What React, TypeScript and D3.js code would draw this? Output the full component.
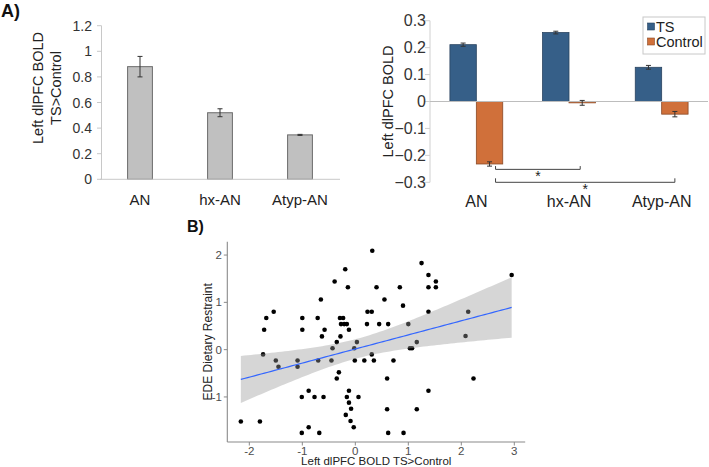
import { useEffect, useRef } from "react";
import * as d3 from "d3";

const groups = ["AN", "hx-AN", "Atyp-AN"];

// A) left: TS>Control contrast per group
const contrastMean = [0.88, 0.52, 0.347];
const contrastErr = [0.08, 0.031, 0.004];
const contrastTicks = [0, 0.2, 0.4, 0.6, 0.8, 1, 1.2];

// A) right: condition means per group
const conditions = ["TS", "Control"];
const tsMean = [0.211, 0.256, 0.127];
const tsErr = [0.006, 0.005, 0.007];
const controlMean = [-0.232, -0.005, -0.047];
const controlErr = [0.008, 0.009, 0.01];
const boldTicks = [-0.3, -0.2, -0.1, 0, 0.1, 0.2, 0.3];
const bracketPairs = [
  ["AN", "hx-AN"],
  ["AN", "Atyp-AN"],
];
const bracketLevels = [-0.252, -0.3];

// B) per-subject contrast vs EDE restraint
const boldContrast = [
  -2.16, -1.8, -1.72, -1.68, -1.54, -1.74, -1.5, -1.45, -1.09, -1.09, -1.0, -1.0,
  -1.01, -0.88, -0.77, -0.6, -1.01, -0.88, -0.68, -0.71, -0.65, -0.58, -0.63, -0.7,
  0.32, -0.19, -0.39, -0.14, 0.4, 0.84, 1.25, 1.38, 1.38, 1.52, 1.52, 0.55, 0.9,
  0.23, 0.31, 1.38, -0.29, -0.23, -0.27, -0.21, -0.16, -0.12, 0.22, 0.45, 0.62,
  -0.28, -0.35, -0.43, 0.03, -0.02, -0.45, -0.01, 0.17, 0.31, 0.35, 0.72, 1.0,
  1.03, 1.07, 1.16, -0.31, -0.35, -0.12, -0.16, 0.06, -0.12, -0.08, -0.18, -0.09,
  -0.03, 0.6, 0.6, 1.16, 0.62, 0.91, 1.38, 2.13, 2.08, 2.23, 2.95,
];
const dietaryRestraint = [
  -1.52, -1.52, 0.42, 0.67, 0.8, -0.1, -0.23, -0.36, -0.23, -0.36, 0.67, 0.42,
  -1.0, -0.87, -1.0, -1.0, -1.76, -1.64, -1.76, 0.67, 1.06, 0.42, 0.28, -0.23,
  2.09, 1.7, 1.44, 1.32, 1.32, 1.32, 1.83, 1.58, 1.32, 1.32, 1.44, 1.06, 0.93,
  0.8, 0.8, 0.8, 0.67, 0.67, 0.54, 0.54, 0.54, 0.42, 0.54, 0.54, 0.54,
  0.28, 0.16, 0.03, 0.16, 0.03, -0.23, -0.23, -0.23, -0.1, -0.23, -0.23, 0.54,
  0.03, 0.03, 0.16, -0.48, -0.61, -0.87, -1.0, -1.0, -1.12, -1.25, -1.38, -1.51,
  -1.64, -0.61, -1.26, -1.26, -1.76, -1.76, -0.87, 0.8, 0.29, -0.61, 1.58,
];
const scatterXTicks = [-2, -1, 0, 1, 2, 3];
const scatterYTicks = [-1, 0, 1, 2];

const FONT = "'Liberation Sans', Arial, sans-serif";
const TS_BLUE = "#365f88";
const CTRL_ORANGE = "#d0703a";

function errorBar(
  g: d3.Selection<SVGGElement, unknown, null, undefined>,
  x: number,
  y0: number,
  y1: number,
  cap = 2.5
) {
  const c = "#333";
  g.append("line").attr("x1", x).attr("x2", x).attr("y1", y0).attr("y2", y1).attr("stroke", c);
  for (const y of [y0, y1]) {
    g.append("line")
      .attr("x1", x - cap)
      .attr("x2", x + cap)
      .attr("y1", y)
      .attr("y2", y)
      .attr("stroke", c);
  }
}

export default function App() {
  const ref = useRef<SVGSVGElement | null>(null);

  useEffect(() => {
    const svg = d3.select(ref.current);
    svg.selectAll("*").remove();

    // ---------- A) left: contrast bars ----------
    const gl = svg.append("g");
    const yL = d3.scaleLinear().domain([0, 1.2]).range([179.3, 25.7]);
    const xL = d3.scaleBand().domain(groups).range([100, 340]).paddingInner(0.69).paddingOuter(0.345);

    gl.append("line")
      .attr("x1", 101.5).attr("x2", 101.5)
      .attr("y1", yL(1.2)).attr("y2", yL(0))
      .attr("stroke", "#c8c8c8");
    gl.selectAll("line.tk")
      .data(contrastTicks)
      .join("line")
      .attr("class", "tk")
      .attr("x1", 97).attr("x2", 101.5)
      .attr("y1", (d) => yL(d)).attr("y2", (d) => yL(d))
      .attr("stroke", "#c8c8c8");
    gl.selectAll("text.tl")
      .data(contrastTicks)
      .join("text")
      .attr("class", "tl")
      .attr("x", 92)
      .attr("y", (d) => yL(d))
      .attr("dy", "0.36em")
      .attr("text-anchor", "end")
      .attr("font-family", FONT)
      .attr("font-size", 14)
      .attr("fill", "#333")
      .text((d) => d3.format("~g")(d));

    gl.selectAll("rect")
      .data(groups)
      .join("rect")
      .attr("x", (d) => xL(d)!)
      .attr("y", (_, i) => yL(contrastMean[i]))
      .attr("width", xL.bandwidth())
      .attr("height", (_, i) => yL(0) - yL(contrastMean[i]))
      .attr("fill", "#c0c0c0")
      .attr("stroke", "#6b6b6b")
      .attr("stroke-width", 1);

    gl.append("line")
      .attr("x1", 100).attr("x2", 340)
      .attr("y1", yL(0)).attr("y2", yL(0))
      .attr("stroke", "#c8c8c8");

    groups.forEach((gname, i) => {
      const cx = xL(gname)! + xL.bandwidth() / 2;
      errorBar(gl, cx, yL(contrastMean[i] + contrastErr[i]), yL(contrastMean[i] - contrastErr[i]));
      gl.append("text")
        .attr("x", cx)
        .attr("y", 205)
        .attr("text-anchor", "middle")
        .attr("font-family", FONT)
        .attr("font-size", 15)
        .attr("fill", "#222")
        .text(gname);
    });

    const tl = gl.append("text")
      .attr("transform", "translate(46,88) rotate(-90)")
      .attr("text-anchor", "middle")
      .attr("font-family", FONT)
      .attr("font-size", 14.5)
      .attr("fill", "#222");
    tl.append("tspan").attr("x", 0).attr("dy", "-0.2em").text("Left dlPFC BOLD");
    tl.append("tspan").attr("x", 0).attr("dy", "1.2em").text("TS>Control");

    svg.append("text")
      .attr("x", 1)
      .attr("y", 16.7)
      .attr("font-family", FONT)
      .attr("font-weight", 700)
      .attr("font-size", 18)
      .attr("fill", "#111")
      .text("A)");

    // ---------- A) right: TS vs Control ----------
    const gr = svg.append("g");
    const yR = d3.scaleLinear().domain([-0.3, 0.3]).range([182.3, 20.7]);
    const xR = d3.scaleBand().domain(groups).range([430, 708]).paddingInner(0.43).paddingOuter(0.215);
    const xSub = d3.scaleBand().domain(conditions).range([0, xR.bandwidth()]);

    gr.append("line")
      .attr("x1", 430).attr("x2", 430)
      .attr("y1", yR(0.3)).attr("y2", yR(-0.3))
      .attr("stroke", "#d0d0d0");
    gr.selectAll("line.tk")
      .data(boldTicks)
      .join("line")
      .attr("class", "tk")
      .attr("x1", 425).attr("x2", 430)
      .attr("y1", (d) => yR(d)).attr("y2", (d) => yR(d))
      .attr("stroke", "#d0d0d0");
    gr.selectAll("text.tl")
      .data(boldTicks)
      .join("text")
      .attr("class", "tl")
      .attr("x", 426)
      .attr("y", (d) => yR(d))
      .attr("dy", "0.36em")
      .attr("text-anchor", "end")
      .attr("font-family", FONT)
      .attr("font-size", 16)
      .attr("fill", "#333")
      .text((d) => d3.format("~g")(d));

    const series = [
      { name: "TS", mean: tsMean, err: tsErr, color: TS_BLUE, edge: "#2a4460" },
      { name: "Control", mean: controlMean, err: controlErr, color: CTRL_ORANGE, edge: "#8a4a26" },
    ];
    series.forEach((s) => {
      groups.forEach((gname, i) => {
        const x0 = xR(gname)! + xSub(s.name)!;
        const v = s.mean[i];
        gr.append("rect")
          .attr("x", x0)
          .attr("y", yR(Math.max(0, v)))
          .attr("width", xSub.bandwidth())
          .attr("height", Math.abs(yR(v) - yR(0)))
          .attr("fill", s.color)
          .attr("stroke", s.edge)
          .attr("stroke-width", 0.8);
      });
    });

    gr.append("line")
      .attr("x1", 430).attr("x2", 708)
      .attr("y1", yR(0)).attr("y2", yR(0))
      .attr("stroke", "#bdbdbd");

    series.forEach((s) => {
      groups.forEach((gname, i) => {
        const cx = xR(gname)! + xSub(s.name)! + xSub.bandwidth() / 2;
        errorBar(gr, cx, yR(s.mean[i] + s.err[i]), yR(s.mean[i] - s.err[i]), 2.5);
      });
    });

    groups.forEach((gname) => {
      gr.append("text")
        .attr("x", xR(gname)! + xR.bandwidth() / 2)
        .attr("y", 207)
        .attr("text-anchor", "middle")
        .attr("font-family", FONT)
        .attr("font-size", 16)
        .attr("fill", "#222")
        .text(gname);
    });

    // significance brackets between AN control bar and the other groups
    bracketPairs.forEach(([a, b], k) => {
      const xa = xR(a)! + xSub("Control")! + xSub.bandwidth() / 2 + 6;
      const xb = xR(b)! + xSub("Control")! + xSub.bandwidth() / 2 - (k === 0 ? 2 : 0);
      const y = yR(bracketLevels[k]);
      const h = k === 0 ? 3.3 : 4;
      gr.append("path")
        .attr("d", `M${xa},${y - h}V${y}H${xb}V${y - h}`)
        .attr("fill", "none")
        .attr("stroke", "#444")
        .attr("stroke-width", 1);
      gr.append("text")
        .attr("x", (xa + xb) / 2)
        .attr("y", y + 12)
        .attr("text-anchor", "middle")
        .attr("font-family", FONT)
        .attr("font-size", 14)
        .attr("fill", "#222")
        .text("*");
    });

    gr.append("text")
      .attr("transform", `translate(388,${(yR(0.3) + yR(-0.3)) / 2}) rotate(-90)`)
      .attr("text-anchor", "middle")
      .attr("dy", "0.35em")
      .attr("font-family", FONT)
      .attr("font-size", 14.5)
      .attr("fill", "#222")
      .text("Left dlPFC BOLD");

    // legend
    const lg = gr.append("g").attr("transform", "translate(643,17)");
    lg.append("rect")
      .attr("width", 62)
      .attr("height", 37)
      .attr("fill", "#fff")
      .attr("stroke", "#c8c8c8");
    series.forEach((s, i) => {
      lg.append("rect")
        .attr("x", 4.5)
        .attr("y", 9.5 + i * 15 - 3.5)
        .attr("width", 7)
        .attr("height", 7)
        .attr("fill", s.color)
        .attr("stroke", s.edge)
        .attr("stroke-width", 0.6);
      lg.append("text")
        .attr("x", 13)
        .attr("y", 9.5 + i * 15)
        .attr("dy", "0.36em")
        .attr("font-family", FONT)
        .attr("font-size", 14.5)
        .attr("fill", "#222")
        .text(s.name);
    });

    // ---------- B) scatter with linear fit ----------
    const gs = svg.append("g");
    const xExt = d3.extent(boldContrast) as [number, number];
    const yExt = d3.extent(dietaryRestraint) as [number, number];
    const xPad = (xExt[1] - xExt[0]) * 0.05;
    const yPad = (yExt[1] - yExt[0]) * 0.05;
    const xS = d3.scaleLinear().domain([xExt[0] - xPad, xExt[1] + xPad]).range([227.3, 525.2]);
    const yS = d3.scaleLinear().domain([yExt[0] - yPad, yExt[1] + yPad]).range([442, 241.7]);

    // points first, then the smoother ribbon over them
    gs.selectAll("circle")
      .data(boldContrast)
      .join("circle")
      .attr("cx", (d) => xS(d))
      .attr("cy", (_, i) => yS(dietaryRestraint[i]))
      .attr("r", 2.3)
      .attr("fill", "#000");

    const n = boldContrast.length;
    const mx = d3.mean(boldContrast)!;
    const my = d3.mean(dietaryRestraint)!;
    let sxx = 0;
    let sxy = 0;
    for (let i = 0; i < n; i++) {
      sxx += (boldContrast[i] - mx) ** 2;
      sxy += (boldContrast[i] - mx) * (dietaryRestraint[i] - my);
    }
    const slope = sxy / sxx;
    const icpt = my - slope * mx;
    let sse = 0;
    for (let i = 0; i < n; i++) sse += (dietaryRestraint[i] - icpt - slope * boldContrast[i]) ** 2;
    const sigma = Math.sqrt(sse / (n - 2));
    const tCrit = 1.989;
    const grid = d3.range(0, 81).map((k) => xExt[0] + ((xExt[1] - xExt[0]) * k) / 80);
    const band = grid.map((x) => {
      const fit = icpt + slope * x;
      const se = sigma * Math.sqrt(1 / n + (x - mx) ** 2 / sxx);
      return { x, fit, lo: fit - tCrit * se, hi: fit + tCrit * se };
    });

    gs.append("path")
      .datum(band)
      .attr(
        "d",
        d3.area<(typeof band)[number]>()
          .x((d) => xS(d.x))
          .y0((d) => yS(d.lo))
          .y1((d) => yS(d.hi))
      )
      .attr("fill", "#999999")
      .attr("fill-opacity", 0.4);
    gs.append("path")
      .datum(band)
      .attr(
        "d",
        d3.line<(typeof band)[number]>()
          .x((d) => xS(d.x))
          .y((d) => yS(d.fit))
      )
      .attr("fill", "none")
      .attr("stroke", "#3366FF")
      .attr("stroke-width", 1.2);

    const axisColor = "#8a8a8a";
    gs.append("line")
      .attr("x1", 227.3).attr("x2", 525.2)
      .attr("y1", 442).attr("y2", 442)
      .attr("stroke", axisColor).attr("stroke-width", 1.1);
    gs.append("line")
      .attr("x1", 227.3).attr("x2", 227.3)
      .attr("y1", 241.7).attr("y2", 442)
      .attr("stroke", axisColor).attr("stroke-width", 1.1);

    scatterXTicks.forEach((t) => {
      gs.append("line")
        .attr("x1", xS(t)).attr("x2", xS(t))
        .attr("y1", 442).attr("y2", 445.5)
        .attr("stroke", axisColor);
      gs.append("text")
        .attr("x", xS(t))
        .attr("y", 454.5)
        .attr("text-anchor", "middle")
        .attr("font-family", FONT)
        .attr("font-size", 11.5)
        .attr("fill", "#4d4d4d")
        .text(t);
    });
    scatterYTicks.forEach((t) => {
      gs.append("line")
        .attr("x1", 223.8).attr("x2", 227.3)
        .attr("y1", yS(t)).attr("y2", yS(t))
        .attr("stroke", axisColor);
      gs.append("text")
        .attr("x", 222)
        .attr("y", yS(t))
        .attr("dy", "0.36em")
        .attr("text-anchor", "end")
        .attr("font-family", FONT)
        .attr("font-size", 11.5)
        .attr("fill", "#4d4d4d")
        .text(t);
    });

    gs.append("text")
      .attr("x", (227.3 + 525.2) / 2)
      .attr("y", 465)
      .attr("text-anchor", "middle")
      .attr("font-family", FONT)
      .attr("font-size", 11.5)
      .attr("fill", "#222")
      .text("Left dlPFC BOLD TS>Control");
    gs.append("text")
      .attr("transform", `translate(212,${(241.7 + 442) / 2}) rotate(-90)`)
      .attr("text-anchor", "middle")
      .attr("font-family", FONT)
      .attr("font-size", 12)
      .attr("fill", "#222")
      .text("EDE Dietary Restraint");

    svg.append("text")
      .attr("x", 187)
      .attr("y", 232)
      .attr("font-family", FONT)
      .attr("font-weight", 700)
      .attr("font-size", 16)
      .attr("fill", "#111")
      .text("B)");
  }, []);

  return (
    <svg
      ref={ref}
      width={709}
      height={467}
      style={{ position: "absolute", left: 0, top: 0, background: "#fff" }}
    />
  );
}
